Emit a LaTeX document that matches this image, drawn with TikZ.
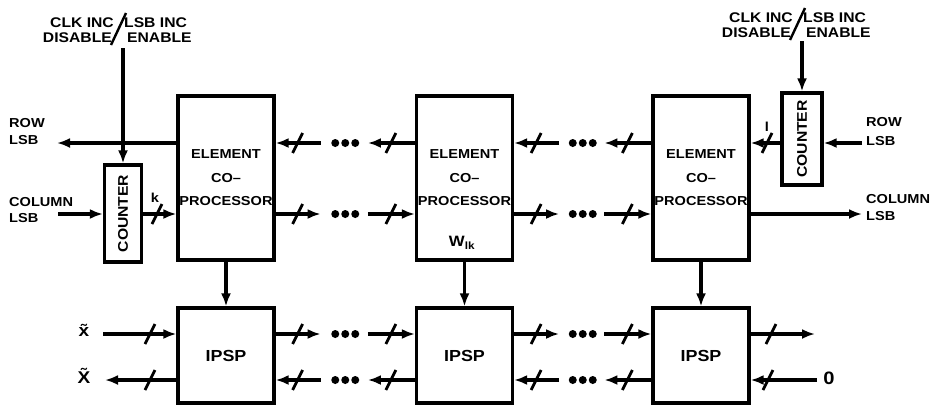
\documentclass[tikz,border=0pt]{standalone}
\usepackage{fontspec}
\newfontfamily\lbl{Liberation Sans}[FakeStretch=1.12]
\usetikzlibrary{arrows.meta,calc}
\begin{document}
\begin{tikzpicture}[x=1pt,y=-1pt,
  every node/.style={font=\lbl\bfseries\fontsize{13}{15}\selectfont, inner sep=0pt},
  wire/.style={line width=3.4pt},
  arr/.style={wire,-{Latex[length=13pt,width=10pt]}},
  box/.style={draw, line width=3.2pt, minimum width=96pt},
  ecp/.style={box, minimum height=164pt, align=center, font=\lbl\bfseries\fontsize{13}{23.5}\selectfont},
  ipsp/.style={box, minimum height=95pt, font=\lbl\bfseries\fontsize{16}{18}\selectfont},
  ctr/.style={draw, line width=3.2pt, minimum width=37pt, font=\lbl\bfseries\fontsize{14}{16}\selectfont},
  toplbl/.style={font=\lbl\bfseries\fontsize{14}{16}\selectfont},
  sidelbl/.style={anchor=west, align=left},
  pics/slsh/.style={code={\draw[line width=2.8pt] (-5,10) -- (5,-10);}},
  pics/dts/.style={code={\fill (-10,0) circle (4pt) (0,0) circle (4pt) (10,0) circle (4pt);}},
]
\useasboundingbox (0,0) rectangle (933,405);

% row levels
\coordinate (yR) at (0,143);
\coordinate (yC) at (0,214);
\coordinate (yT) at (0,334);
\coordinate (yB) at (0,380);

% boxes
\node[ecp] (e1) at (226,178) {ELEMENT\\CO\textendash\\PROCESSOR};
\node[ecp] (e2) at (464.5,178) {ELEMENT\\CO\textendash\\PROCESSOR};
\node[ecp] (e3) at (701,178) {ELEMENT\\CO\textendash\\PROCESSOR};
\node[font=\lbl\bfseries\fontsize{15}{17}\selectfont] (w) at (462,243) {W\textsubscript{lk}};
\node[ipsp] (p1) at (226,355.5) {IPSP};
\node[ipsp] (p2) at (464.5,355.5) {IPSP};
\node[ipsp] (p3) at (701,355.5) {IPSP};
\node[ctr, minimum height=97pt] (c1) at (123,213.5) {\rotatebox{90}{COUNTER}};
\node[ctr, minimum height=92pt, minimum width=40pt] (c2) at (802,139) {\rotatebox{90}{COUNTER}};

% top labels, left
\node[toplbl, anchor=east] (tl1) at (114,23) {CLK INC};
\node[toplbl, anchor=west] (tl2) at (124,23) {LSB INC};
\node[toplbl, anchor=east] (tl3) at (112,38) {DISABLE};
\node[toplbl, anchor=west] (tl4) at (127,38) {ENABLE};
\draw[line width=2.4pt] (111,45) -- (126,13);
% top labels, right
\node[toplbl, anchor=east] (tr1) at (793,18) {CLK INC};
\node[toplbl, anchor=west] (tr2) at (803,18) {LSB INC};
\node[toplbl, anchor=east] (tr3) at (791,33) {DISABLE};
\node[toplbl, anchor=west] (tr4) at (806,33) {ENABLE};
\draw[line width=2.4pt] (790,40) -- (805,8);

% side labels
\node[sidelbl, font=\lbl\bfseries\fontsize{13}{17}\selectfont] (rowl) at (9,132) {ROW\\LSB};
\node[sidelbl, font=\lbl\bfseries\fontsize{13}{16}\selectfont] (coll) at (9,210) {COLUMN\\LSB};
\node[sidelbl, font=\lbl\bfseries\fontsize{13}{19}\selectfont] (rowr) at (866,132) {ROW\\LSB};
\node[sidelbl, font=\lbl\bfseries\fontsize{13}{17}\selectfont] (colr) at (866,208) {COLUMN\\LSB};
\node[font=\lbl\bfseries\fontsize{17}{19}\selectfont] (xt) at (84,330) {\~{x}};
\node[font=\lbl\bfseries\fontsize{17}{19}\selectfont] (xb) at (84,376) {\~{X}};
\node[font=\lbl\bfseries\fontsize{18}{20}\selectfont] (zero) at (829,378) {0};
\node (k) at (155,198) {k};
\node (l) at (767,127) {l};

% free ends
\coordinate (clk1) at (123,48);
\coordinate (clk2) at (802,41);
\coordinate (rowLend) at (57,143);
\coordinate (colLbeg) at (58,214);
\coordinate (rowRbeg) at (862,143);
\coordinate (colRend) at (862,214);
\coordinate (xtbeg) at (103,334);
\coordinate (xbend) at (105,380);
\coordinate (outT) at (815,334);
\coordinate (zin) at (817,380);

% left side connectors
\draw[arr] (clk1) -- (c1.north);
\draw[arr] (e1.west|-yR) -- (rowLend);
\draw[arr] (colLbeg) -- (c1.west|-yC);
\draw[arr] (c1.east|-yC) -- (e1.west|-yC);
\pic at (157,214) {slsh};
\draw[arr] (xtbeg) -- (p1.west|-yT);
\pic at (150,334) {slsh};
\draw[arr] (p1.west|-yB) -- (xbend);
\pic at (150,380) {slsh};

% vertical ECP -> IPSP
\foreach \e/\p in {e1/p1,e2/p2,e3/p3}{\draw[arr] (\e.south) -- (\p.north);}

% chained links between stages
\foreach \a/\b/\l/\r in {e1/e2/yR/yC, e2/e3/yR/yC, p1/p2/yB/yT, p2/p3/yB/yT}{
  % leftward
  \draw[arr] ($(\a.east|-\l)+(45,0)$) -- (\a.east|-\l);
  \pic at ($(\a.east|-\l)+(22,0)$) {slsh};
  \path ($(\a.east|-\l)!0.5!(\b.west|-\l)$) pic {dts};
  \draw[arr] (\b.west|-\l) -- ($(\b.west|-\l)+(-47,0)$);
  \pic at ($(\b.west|-\l)+(-24,0)$) {slsh};
  % rightward
  \draw[arr] (\a.east|-\r) -- ($(\a.east|-\r)+(45,0)$);
  \pic at ($(\a.east|-\r)+(22,0)$) {slsh};
  \path ($(\a.east|-\r)!0.5!(\b.west|-\r)$) pic {dts};
  \draw[arr] ($(\b.west|-\r)+(-47,0)$) -- (\b.west|-\r);
  \pic at ($(\b.west|-\r)+(-24,0)$) {slsh};
}

% right side connectors
\draw[arr] (clk2) -- (c2.north);
\draw[arr] (c2.west|-yR) -- (e3.east|-yR);
\pic at (767,143) {slsh};
\draw[arr] (rowRbeg) -- (c2.east|-yR);
\draw[arr] (e3.east|-yC) -- (colRend);
\draw[arr] (p3.east|-yT) -- (outT);
\pic at (771,334) {slsh};
\draw[arr] (zin) -- (p3.east|-yB);
\pic at (768,380) {slsh};
\end{tikzpicture}
\end{document}
